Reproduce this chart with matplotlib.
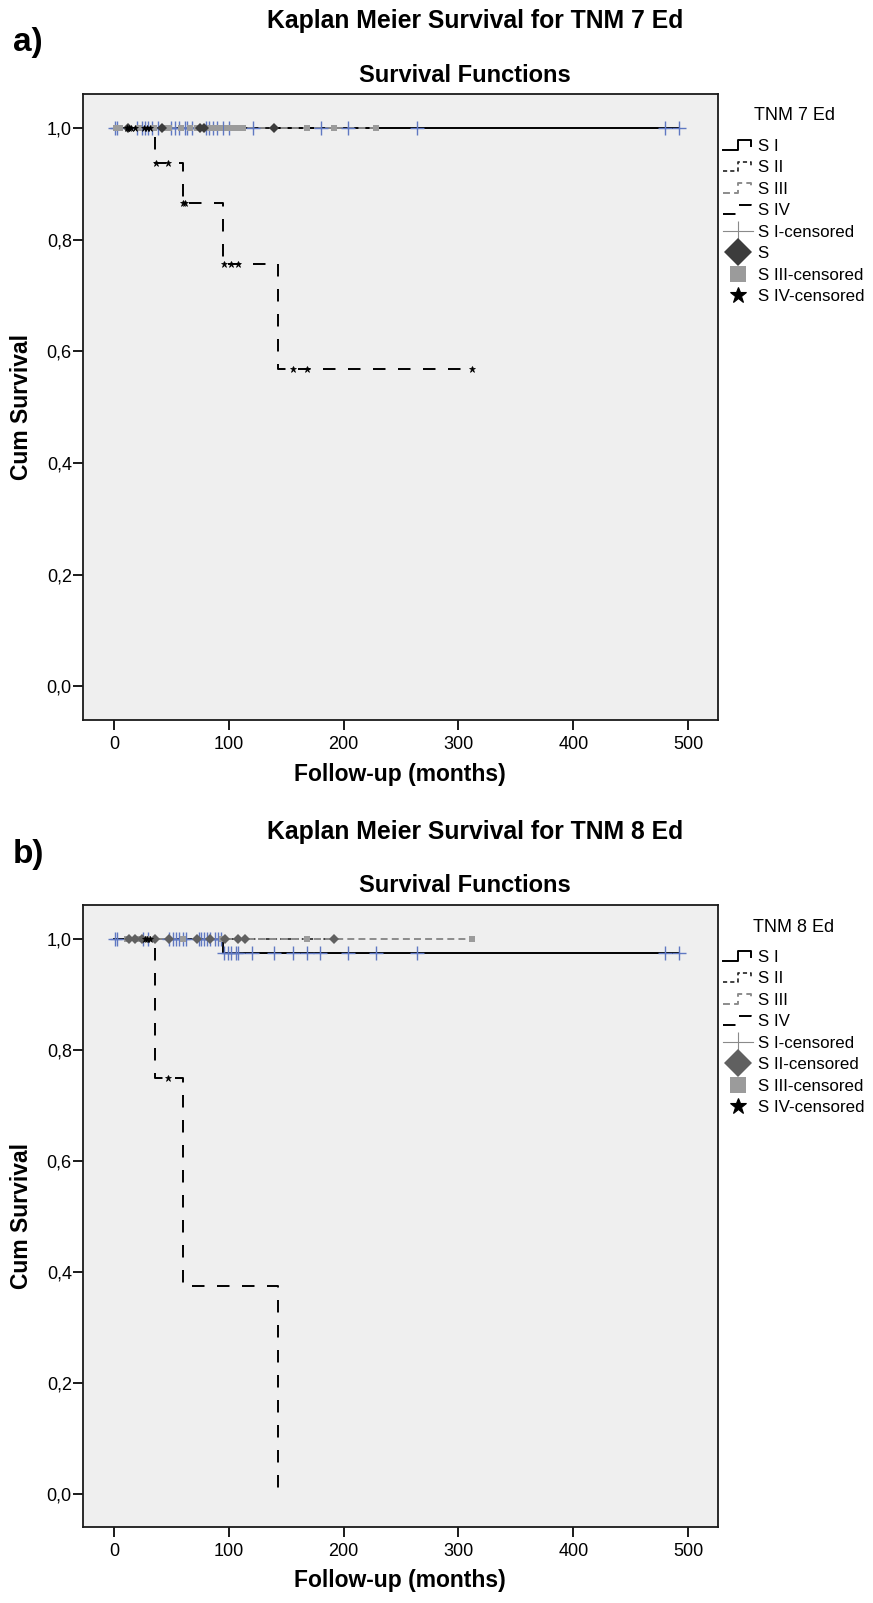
import numpy as np
import matplotlib
matplotlib.use("Agg")
import matplotlib.pyplot as plt
from matplotlib.lines import Line2D
from matplotlib.legend_handler import HandlerBase
from matplotlib import font_manager

# ---------------- data ----------------
# TNM 7th edition
t7_s1_event_t = []
t7_s1_surv = []
t7_s1_cens = [1, 3, 20, 24, 27, 30, 33, 38, 50, 53, 57, 62, 64, 68, 80, 83, 86,
              90, 95, 100, 121, 180, 204, 264, 480, 492]
t7_s2_event_t = []
t7_s2_surv = []
t7_s2_cens = [12, 42, 75, 78, 139]
t7_s3_event_t = []
t7_s3_surv = []
t7_s3_cens = [2, 5, 22, 35, 45, 48, 58, 66, 72, 84, 88, 92, 98, 103, 108, 112,
              168, 192, 228]
t7_s4_event_t = [36, 60, 95, 143]
t7_s4_surv = [0.9375, 0.8654, 0.7572, 0.5679]
t7_s4_cens = [11, 13, 15, 18, 26, 29, 31, 36.5, 47, 60.5, 62, 96, 102, 108,
              156, 168, 312]

# TNM 8th edition
t8_s1_event_t = [95]
t8_s1_surv = [0.975]
t8_s1_cens = [1, 3, 25, 30, 48, 51, 54, 57, 60, 63, 74, 76, 78, 81, 84, 88, 91,
              93, 96, 99, 102, 106, 108, 120, 139, 156, 168, 179, 204, 228,
              264, 480, 492]
t8_s2_event_t = []
t8_s2_surv = []
t8_s2_cens = [13, 18, 24, 36, 48, 72, 84, 97, 108, 114, 192]
t8_s3_event_t = []
t8_s3_surv = []
t8_s3_cens = [11, 22, 30, 60, 94, 168, 312]
t8_s4_event_t = [36, 60, 143]
t8_s4_surv = [0.75, 0.375, 0.0]
t8_s4_cens = [27, 29, 31, 47]

stage_labels = ["S I", "S II", "S III", "S IV"]
legend_labels_7 = ["S I", "S II", "S III", "S IV", "S I-censored", "S",
                   "S III-censored", "S IV-censored"]
legend_labels_8 = ["S I", "S II", "S III", "S IV", "S I-censored",
                   "S II-censored", "S III-censored", "S IV-censored"]
x_ticks = [0, 100, 200, 300, 400, 500]
y_ticks = [0.0, 0.2, 0.4, 0.6, 0.8, 1.0]

# ---------------- styling ----------------
plt.rcParams["lines.scale_dashes"] = False
avail = {f.name for f in font_manager.fontManager.ttflist}
NARROW = ["Liberation Sans Narrow", "Liberation Sans", "DejaVu Sans"] if "Liberation Sans Narrow" in avail \
    else ["Liberation Sans", "DejaVu Sans"]
REG = ["Liberation Sans", "DejaVu Sans"]

W, H = 873, 1603
fig = plt.figure(figsize=(W / 100, H / 100), dpi=100)
fig.patch.set_facecolor("white")

line_styles = [
    dict(color="black", lw=1.4, linestyle="-"),
    dict(color="#222222", lw=1.2, dashes=(3.0, 2.2)),
    dict(color="#8c8c8c", lw=1.4, dashes=(5.0, 3.0)),
    dict(color="black", lw=1.4, dashes=(9.0, 9.0)),
]
plus_col = "#5f78c2"
sq_col = "#9b9b9b"


def fx(px):
    return px / W


def fy(py):
    return 1 - py / H


def km_xy(ev_t, surv, cens):
    last = max(list(ev_t) + list(cens))
    xs = [0] + list(ev_t) + [last]
    ys = [1.0] + list(surv) + [surv[-1] if len(surv) else 1.0]
    return xs, ys


def surv_at(ev_t, surv, t):
    t = np.asarray(t, dtype=float)
    lv = np.concatenate([[1.0], surv]) if len(surv) else np.array([1.0])
    idx = np.searchsorted(np.asarray(ev_t, dtype=float), t, side="right")
    return lv[idx]


class StepHandler(HandlerBase):
    def create_artists(self, legend, orig_handle, xdescent, ydescent, width,
                       height, fontsize, trans):
        x0, y0 = -xdescent, -ydescent
        xs = [x0, x0 + 0.5 * width, x0 + 0.5 * width, x0 + 0.95 * width,
              x0 + 0.95 * width]
        ys = [y0 + 0.1 * height, y0 + 0.1 * height, y0 + 0.9 * height,
              y0 + 0.9 * height, y0 + 0.45 * height]
        ln = Line2D(xs, ys)
        ln.update_from(orig_handle)
        ln.set_transform(trans)
        return [ln]


def panel(top_px, height_px, letter, edition, groups, leg_labels, diamond_col):
    ax = fig.add_axes([fx(82.5), fy(top_px + height_px), fx(718 - 82.5),
                       height_px / H])
    ax.set_facecolor("#efefef")
    for sp in ax.spines.values():
        sp.set_linewidth(1.3)
        sp.set_color("#1a1a1a")

    # lines
    for (ev_t, surv, cens), st in zip(groups, line_styles):
        xs, ys = km_xy(ev_t, surv, cens)
        ax.plot(xs, ys, drawstyle="steps-post", zorder=2, **st)

    # censor marks
    (e1, s1, c1), (e2, s2, c2), (e3, s3, c3), (e4, s4, c4) = groups
    ax.plot(c1, surv_at(e1, s1, c1), linestyle="none", marker="+",
            markersize=10, markeredgewidth=1.0, color=plus_col, zorder=3)
    ax.plot(c3, surv_at(e3, s3, c3), linestyle="none", marker="s",
            markersize=5, markeredgewidth=0, color=sq_col, zorder=4)
    ax.plot(c2, surv_at(e2, s2, c2), linestyle="none", marker="D",
            markersize=5, markeredgewidth=0, color=diamond_col, zorder=5)
    ax.plot(c4, surv_at(e4, s4, c4), linestyle="none", marker="*",
            markersize=4.5, markeredgewidth=0.5, color="black", zorder=6)

    ax.set_xlim(-27.4, 526)
    ax.set_ylim(-0.06, 1.061)
    ax.set_xticks(x_ticks)
    ax.set_xticklabels([str(v) for v in x_ticks], family=NARROW, fontsize=13)
    ax.set_yticks(y_ticks)
    ax.set_yticklabels([f"{v:.1f}".replace(".", ",") for v in y_ticks],
                       family=NARROW, fontsize=13)
    ax.tick_params(axis="both", direction="out", length=7.2, width=1.4,
                   color="#1a1a1a")
    ax.tick_params(axis="y", pad=0.5)
    ax.tick_params(axis="x", pad=4)

    ax.set_xlabel("Follow-up (months)", family=NARROW, fontsize=16.5,
                  fontweight="bold", va="center")
    ax.xaxis.set_label_coords(0.5, -(774 - 720) / 626)
    ax.set_ylabel("Cum Survival", family=NARROW, fontsize=16.5,
                  fontweight="bold", va="center")
    ax.yaxis.set_label_coords((22 - 82.5) / 635.5, 0.5)

    off = top_px - 94
    fig.text(fx(28), fy(43 + off), letter, family=REG, fontsize=24,
             fontweight="bold", ha="center", va="center")
    fig.text(fx(475), fy(21 + off), f"Kaplan Meier Survival for {edition}",
             family=NARROW, fontsize=17.8, fontweight="bold", ha="center",
             va="center")
    fig.text(fx(465), fy(75 + off), "Survival Functions", family=NARROW,
             fontsize=17, fontweight="bold", ha="center", va="center")
    fig.text(fx(794), fy(116 + off), edition, family=REG, fontsize=13,
             ha="center", va="center")

    # legend
    handles = [Line2D([], [], **st) for st in line_styles]
    handles += [
        Line2D([], [], color="#8a8a8a", lw=0.8, marker="|", markersize=15,
               markeredgewidth=0.8),
        Line2D([], [], linestyle="none", marker="D", markersize=14,
               color=diamond_col, markeredgewidth=0),
        Line2D([], [], linestyle="none", marker="s", markersize=12,
               color=sq_col, markeredgewidth=0),
        Line2D([], [], linestyle="none", marker="*", markersize=12,
               color="black", markeredgewidth=0.8),
    ]
    hmap = {h: StepHandler() for h in handles[:4]}
    ax.legend(handles, leg_labels, handler_map=hmap, loc="upper left",
              bbox_to_anchor=(fx(723), fy(139 + off)),
              bbox_transform=fig.transFigure, frameon=False,
              prop={"family": REG, "size": 12.2}, handlelength=1.75,
              handleheight=0.7, handletextpad=0.3, labelspacing=0.38,
              borderpad=0, borderaxespad=0)
    return ax


groups7 = [(t7_s1_event_t, t7_s1_surv, t7_s1_cens),
           (t7_s2_event_t, t7_s2_surv, t7_s2_cens),
           (t7_s3_event_t, t7_s3_surv, t7_s3_cens),
           (t7_s4_event_t, t7_s4_surv, t7_s4_cens)]
groups8 = [(t8_s1_event_t, t8_s1_surv, t8_s1_cens),
           (t8_s2_event_t, t8_s2_surv, t8_s2_cens),
           (t8_s3_event_t, t8_s3_surv, t8_s3_cens),
           (t8_s4_event_t, t8_s4_surv, t8_s4_cens)]

panel(94, 626, "a)", "TNM 7 Ed", groups7, legend_labels_7, "#3c3c3c")
panel(905, 622, "b)", "TNM 8 Ed", groups8, legend_labels_8, "#606060")

fig.savefig("out.png", dpi=100, facecolor="white")
